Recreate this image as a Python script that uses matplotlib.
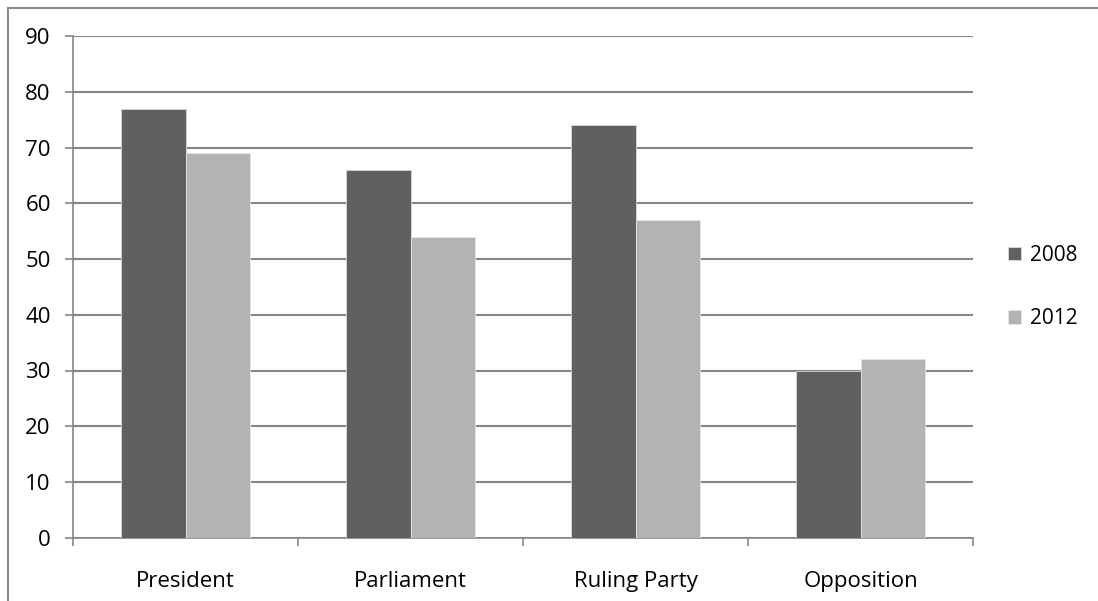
import numpy as np
import matplotlib
matplotlib.use("Agg")
import matplotlib.pyplot as plt
from matplotlib.lines import Line2D

plt.rcParams['font.family'] = ['Open Sans', 'DejaVu Sans']

categories = ['President', 'Parliament', 'Ruling Party', 'Opposition']
series_labels = ['2008', '2012']
values_2008 = [77, 66, 74, 30]
values_2012 = [69, 54, 57, 32]
y_ticks = [0, 10, 20, 30, 40, 50, 60, 70, 80, 90]

dark = '#606060'
light = '#b3b3b3'
axis_gray = '#868686'

fig = plt.figure(figsize=(10.98, 6.01), dpi=100)
ax = fig.add_axes([73/1098, 1 - 537.6/601, 900/1098, (537.6 - 36.3)/601])

x = np.arange(len(categories))
w = 0.286
b1 = ax.bar(x - w/2, values_2008, w, color=dark, edgecolor='#d9d9d9', linewidth=0.6,
            label=series_labels[0], zorder=3)
b2 = ax.bar(x + w/2, values_2012, w, color=light, edgecolor='#e6e6e6', linewidth=0.6,
            label=series_labels[1], zorder=3)

ax.set_xlim(-0.5, len(categories) - 0.5)
ax.set_ylim(0, 90)
ax.set_yticks(y_ticks)
ax.yaxis.grid(True, color=axis_gray, linewidth=1.5, zorder=0)
ax.set_axisbelow(True)

# category ticks sit at the boundaries, labels at centres
ax.set_xticks(np.arange(-0.5, len(categories)), minor=False)
ax.set_xticklabels([])
ax.set_xticks(x, minor=True)
ax.set_xticklabels(categories, minor=True)
ax.tick_params(axis='x', which='minor', length=0, pad=24, labelsize=16)
ax.tick_params(axis='x', which='major', length=6, color=axis_gray, width=1.2)
ax.tick_params(axis='y', length=6, color=axis_gray, width=1.2, pad=10, labelsize=16)

for side in ['top', 'right']:
    ax.spines[side].set_visible(False)
for side in ['left', 'bottom']:
    ax.spines[side].set_color(axis_gray)
    ax.spines[side].set_linewidth(1.2)

ax.legend(handles=[b1, b2], loc='center left', bbox_to_anchor=(998/1098, 1 - 287/601),
          bbox_transform=fig.transFigure, frameon=False, fontsize=15,
          handlelength=0.6, handleheight=0.6, handletextpad=0.45,
          labelspacing=2.05, borderpad=0)

# chart border (only top and left visible in the crop)
fig.add_artist(Line2D([8/1098, 1], [1 - 8/601, 1 - 8/601], color='#8c8c8c', linewidth=1.5,
                      transform=fig.transFigure))
fig.add_artist(Line2D([8/1098, 8/1098], [0, 1 - 8/601], color='#8c8c8c', linewidth=1.5,
                      transform=fig.transFigure))

fig.savefig('out.png', dpi=100)
